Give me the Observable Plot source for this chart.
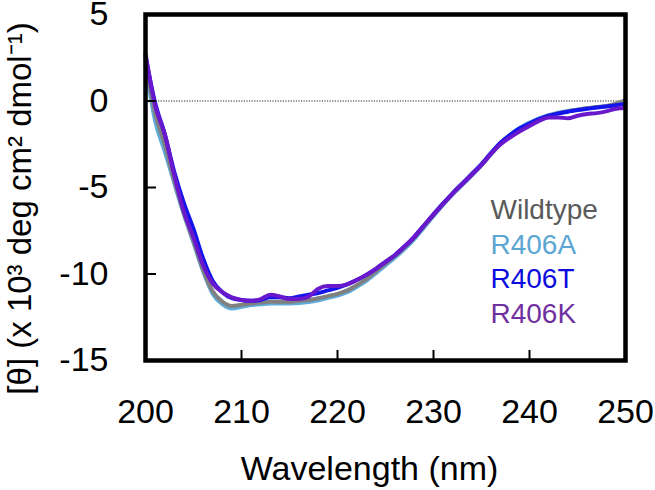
<!DOCTYPE html>
<html>
<head>
<meta charset="utf-8">
<script src="https://cdn.jsdelivr.net/npm/d3@7"></script>
<script src="https://cdn.jsdelivr.net/npm/@observablehq/plot@0.6"></script>
<style>
  body { margin: 0; background: #fff; }
</style>
</head>
<body>
<div id="chart"></div>
<script>
// CD spectra, mean residue ellipticity (x 10^3 deg cm2 dmol-1)
const wavelength = [200, 201, 202, 203, 204, 205, 206, 207, 208, 209,
  210, 211, 212, 213, 214, 215, 216, 217, 218, 219,
  220, 221, 222, 223, 224, 225, 226, 227, 228, 229,
  230, 231, 232, 233, 234, 235, 236, 237, 238, 239,
  240, 241, 242, 243, 244, 245, 246, 247, 248, 249, 250];

const wildtype = [2.4, -0.7, -2.5, -4.6, -6.5, -8.1, -9.75, -11.0, -11.6, -11.85,
  -11.78, -11.7, -11.65, -11.6, -11.6, -11.6, -11.55, -11.5, -11.4, -11.28,
  -11.15, -10.95, -10.65, -10.3, -9.85, -9.4, -8.95, -8.45, -7.9, -7.25,
  -6.6, -5.95, -5.35, -4.8, -4.25, -3.7, -3.05, -2.45, -1.95, -1.6,
  -1.3, -1.05, -0.85, -0.7, -0.6, -0.5, -0.42, -0.35, -0.28, -0.15, 0.05];

const r406a = [2.1, -1.15, -2.9, -4.75, -6.57, -8.2, -9.85, -11.15, -11.75, -12.0,
  -11.9, -11.8, -11.75, -11.7, -11.7, -11.7, -11.68, -11.62, -11.52, -11.38,
  -11.25, -11.05, -10.75, -10.4, -9.95, -9.5, -9.05, -8.55, -7.98, -7.32,
  -6.65, -6.0, -5.4, -4.85, -4.3, -3.72, -3.08, -2.45, -1.95, -1.55,
  -1.25, -1.0, -0.82, -0.68, -0.58, -0.5, -0.42, -0.36, -0.3, -0.22, -0.12];

const r406t = [2.6, -0.1, -1.9, -4.1, -5.9, -7.4, -9.1, -10.4, -11.05, -11.4,
  -11.5, -11.55, -11.5, -11.35, -11.35, -11.4, -11.3, -11.2, -11.1, -10.95,
  -10.8, -10.6, -10.35, -10.05, -9.7, -9.3, -8.9, -8.4, -7.85, -7.2,
  -6.55, -5.92, -5.32, -4.78, -4.22, -3.65, -3.0, -2.4, -1.95, -1.58,
  -1.3, -1.05, -0.85, -0.72, -0.62, -0.52, -0.45, -0.38, -0.32, -0.25, -0.15];

const r406k = [2.76, -0.25, -1.9, -4.3, -6.4, -7.9, -9.5, -10.55, -11.05, -11.35,
  -11.5, -11.55, -11.45, -11.2, -11.3, -11.45, -11.45, -11.3, -10.85, -10.7,
  -10.7, -10.6, -10.35, -10.05, -9.7, -9.3, -8.9, -8.4, -7.85, -7.2,
  -6.55, -5.95, -5.35, -4.8, -4.25, -3.7, -3.05, -2.5, -2.1, -1.75,
  -1.45, -1.15, -0.95, -0.95, -1.0, -0.85, -0.75, -0.7, -0.6, -0.45, -0.4];

const seriesNames = ["Wildtype", "R406A", "R406T", "R406K"];
const lineColors = ["#808080", "#5fabdb", "#1414ec", "#6a18cc"];
const textColors = ["#5a5a5a", "#5ba6d2", "#0c0ce0", "#7030a0"];
const drawOrder = [1, 0, 2, 3];
const xTicks = [200, 210, 220, 230, 240, 250];
const yTicks = [5, 0, -5, -10, -15];

const values = [wildtype, r406a, r406t, r406k];
const font = "Liberation Sans, Arial, Helvetica, sans-serif";

const chart = Plot.plot({
  width: 655,
  height: 490,
  marginLeft: 145,
  marginRight: 30,
  marginTop: 14,
  marginBottom: 130,
  style: { fontFamily: font, background: "#fff", color: "#000", overflow: "visible" },
  x: { domain: [200, 250] },
  y: { domain: [-15, 5] },
  marks: [
    Plot.ruleY([0], { stroke: "#222", strokeWidth: 1.2, strokeDasharray: "1.2,1.4" }),
    ...drawOrder.map(i => Plot.lineY(values[i], {
      x: wavelength,
      stroke: lineColors[i],
      strokeWidth: 4,
      curve: "monotone-x"
    })),
    Plot.axisX(xTicks, { tickSize: -10, tickPadding: 48, strokeWidth: 2, fontSize: 34, fill: "#000", label: null, tickFormat: d => String(d) }),
    Plot.axisY(yTicks, { tickSize: -11, tickPadding: 48, strokeWidth: 2, fontSize: 34, fill: "#000", label: null, tickFormat: d => String(d) }),
    Plot.frame({ stroke: "#000", strokeWidth: 4.5 }),
    Plot.text(["Wavelength (nm)"], {
      frameAnchor: "bottom", dx: -16, dy: 109, fontSize: 34, lineAnchor: "middle", fill: "#000"
    }),
    Plot.text(["[θ] (x 10³ deg cm² dmol⁻¹)"], {
      frameAnchor: "left", textAnchor: "middle", rotate: -90, dx: -125, dy: 21,
      fontSize: 33, lineAnchor: "middle", fill: "#000"
    }),
    ...seriesNames.map((name, i) => Plot.text([name], {
      frameAnchor: "top-left", textAnchor: "start", lineAnchor: "middle",
      dx: 345, dy: 196 + i * 34.5, fontSize: 28, fill: textColors[i]
    }))
  ]
});

document.getElementById("chart").append(chart);
</script>
</body>
</html>
